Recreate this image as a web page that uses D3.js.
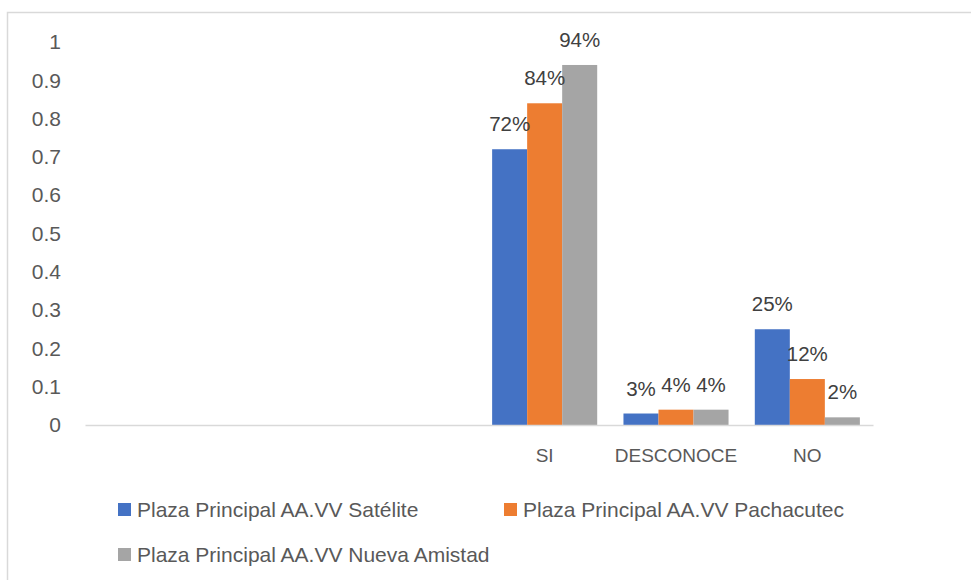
<!DOCTYPE html>
<html>
<head>
<meta charset="utf-8">
<script src="https://cdn.jsdelivr.net/npm/d3@7"></script>
<style>
  body { margin: 0; background: #fff; }
  text { font-family: "Liberation Sans", Arial, sans-serif; }
</style>
</head>
<body>
<div id="chart"></div>
<script>
// the data
var categories = ["", "", "", "SI", "DESCONOCE", "NO"];
var series = ["Plaza Principal AA.VV Satélite", "Plaza Principal AA.VV Pachacutec", "Plaza Principal AA.VV Nueva Amistad"];
var satelite = [null, null, null, 0.72, 0.03, 0.25];
var pachacutec = [null, null, null, 0.84, 0.04, 0.12];
var nuevaAmistad = [null, null, null, 0.94, 0.04, 0.02];
var yTicks = [0, 0.1, 0.2, 0.3, 0.4, 0.5, 0.6, 0.7, 0.8, 0.9, 1];
var colors = ["#4472C4", "#ED7D31", "#A5A5A5"];

var values = [satelite, pachacutec, nuevaAmistad];

var W = 971, H = 580;
var margin = { top: 42, left: 85, right: 98, bottom: 155 };
var width = W - margin.left - margin.right,
    height = H - margin.top - margin.bottom;

var svg = d3.select("#chart")
    .append("svg")
    .attr("width", W)
    .attr("height", H);

// chart frame (cropped on the right and bottom)
svg.append("rect")
    .attr("x", 7.5).attr("y", 12.5)
    .attr("width", W + 20).attr("height", H + 20)
    .attr("fill", "none")
    .attr("stroke", "#d9d9d9")
    .attr("stroke-width", 1.5);

var g = svg.append("g")
    .attr("transform", "translate(" + margin.left + "," + margin.top + ")");

// X scale: one band per category, three bars inside
var x0 = d3.scaleBand()
    .domain(d3.range(categories.length))
    .range([0, width]);

var x1 = d3.scaleBand()
    .domain(d3.range(series.length))
    .range([0, x0.bandwidth()])
    .paddingInner(0)
    .paddingOuter(0.375);

var y = d3.scaleLinear()
    .domain([0, 1])
    .range([height, 0]);

// Y axis labels only
var yAxis = g.append("g")
    .call(d3.axisLeft(y).tickValues(yTicks).tickSize(0).tickPadding(24)
        .tickFormat(function (d) { return d3.format("~g")(d); }));
yAxis.select(".domain").remove();
yAxis.selectAll("text")
    .attr("fill", "#595959")
    .style("font-size", "21px");

// bars
var rows = categories.map(function (c, i) {
    return series.map(function (s, j) { return { cat: i, ser: j, v: values[j][i] }; });
});

var groups = g.selectAll(".cat")
    .data(rows)
    .enter()
    .append("g")
    .attr("transform", function (d, i) { return "translate(" + x0(i) + ",0)"; });

groups.selectAll("rect")
    .data(function (d) { return d.filter(function (e) { return e.v != null; }); })
    .enter()
    .append("rect")
    .attr("x", function (d) { return x1(d.ser); })
    .attr("y", function (d) { return y(d.v); })
    .attr("width", x1.bandwidth())
    .attr("height", function (d) { return height - y(d.v); })
    .attr("fill", function (d) { return colors[d.ser]; });

// data labels
groups.selectAll(".lbl")
    .data(function (d) { return d.filter(function (e) { return e.v != null; }); })
    .enter()
    .append("text")
    .attr("x", function (d) { return x1(d.ser) + x1.bandwidth() / 2; })
    .attr("y", function (d) { return y(d.v) - 18; })
    .attr("text-anchor", "middle")
    .attr("fill", "#404040")
    .style("font-size", "20.5px")
    .text(function (d) { return Math.round(d.v * 100) + "%"; });

// X axis
var xAxis = g.append("g")
    .attr("transform", "translate(0," + height + ")")
    .call(d3.axisBottom(x0).tickSize(0).tickPadding(24)
        .tickFormat(function (i) { return categories[i]; }));
xAxis.select(".domain")
    .attr("stroke", "#d9d9d9")
    .attr("stroke-width", 1.5);
xAxis.selectAll("text")
    .attr("fill", "#595959")
    .style("font-size", "19px");

// legend
var legendPos = [[118, 503], [504, 503], [118, 548]];
var legend = svg.selectAll(".legend")
    .data(series)
    .enter()
    .append("g")
    .attr("transform", function (d, i) { return "translate(" + legendPos[i][0] + "," + legendPos[i][1] + ")"; });

legend.append("rect")
    .attr("width", 13)
    .attr("height", 13)
    .attr("fill", function (d, i) { return colors[i]; });

legend.append("text")
    .attr("x", 19)
    .attr("y", 14)
    .attr("fill", "#595959")
    .style("font-size", "21px")
    .text(function (d) { return d; });
</script>
</body>
</html>
